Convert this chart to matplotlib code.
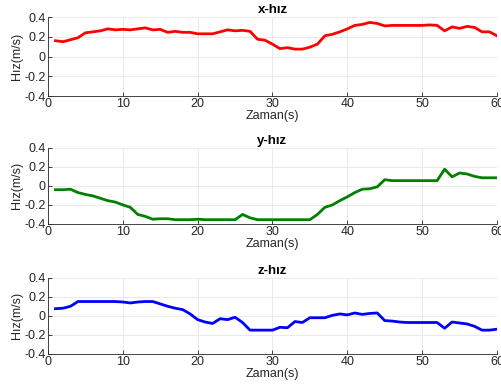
import numpy as np
import matplotlib
matplotlib.use('Agg')
import matplotlib.pyplot as plt
from matplotlib.ticker import FuncFormatter

plt.rcParams['font.family'] = ['Liberation Sans', 'DejaVu Sans']
plt.rcParams['font.size'] = 9

# zaman ekseni
zaman = list(range(1, 61))

# x-hız
x_hiz = [0.16, 0.15, 0.17, 0.19, 0.24, 0.25, 0.26, 0.28, 0.27, 0.275,
         0.27, 0.28, 0.29, 0.27, 0.275, 0.245, 0.255, 0.245, 0.245, 0.23,
         0.23, 0.23, 0.25, 0.27, 0.26, 0.265, 0.255, 0.175, 0.165, 0.125,
         0.08, 0.09, 0.075, 0.075, 0.095, 0.125, 0.21, 0.225, 0.25, 0.28,
         0.315, 0.325, 0.345, 0.335, 0.31, 0.315, 0.315, 0.315, 0.315, 0.315,
         0.32, 0.315, 0.26, 0.30, 0.285, 0.305, 0.295, 0.25, 0.25, 0.21]

# y-hız
y_hiz = [-0.04, -0.04, -0.035, -0.07, -0.09, -0.105, -0.13, -0.155, -0.17, -0.2,
         -0.225, -0.3, -0.32, -0.35, -0.345, -0.345, -0.355, -0.355, -0.355, -0.35,
         -0.355, -0.355, -0.355, -0.355, -0.355, -0.3, -0.335, -0.355, -0.355, -0.355,
         -0.355, -0.355, -0.355, -0.355, -0.355, -0.3, -0.225, -0.2, -0.155, -0.115,
         -0.07, -0.035, -0.03, -0.01, 0.065, 0.055, 0.055, 0.055, 0.055, 0.055,
         0.055, 0.055, 0.175, 0.095, 0.135, 0.125, 0.1, 0.085, 0.085, 0.085]

# z-hız
z_hiz = [0.075, 0.08, 0.1, 0.15, 0.15, 0.15, 0.15, 0.15, 0.15, 0.145,
         0.135, 0.145, 0.15, 0.15, 0.125, 0.1, 0.08, 0.065, 0.02, -0.04,
         -0.065, -0.08, -0.03, -0.04, -0.015, -0.07, -0.15, -0.15, -0.15, -0.15,
         -0.12, -0.125, -0.06, -0.07, -0.02, -0.02, -0.02, 0.005, 0.02, 0.01,
         0.03, 0.015, 0.025, 0.03, -0.05, -0.055, -0.065, -0.07, -0.07, -0.07,
         -0.07, -0.07, -0.13, -0.065, -0.075, -0.085, -0.11, -0.15, -0.15, -0.14]

basliklar = ['x-hız', 'y-hız', 'z-hız']
renkler = ['#ff0000', '#008000', '#0000ff']
seriler = [x_hiz, y_hiz, z_hiz]

fig = plt.figure(figsize=(5.02, 3.92), dpi=100)
konumlar = [(0.0956, 0.755, 0.8944, 0.2016),
            (0.0956, 0.4286, 0.8944, 0.1944),
            (0.0956, 0.097, 0.8944, 0.1946)]

def fmt(v, pos):
    if abs(v) < 1e-9:
        return '0'
    return '%.1f' % v

for k in range(3):
    ax = fig.add_axes(konumlar[k])
    ax.plot(zaman, seriler[k], color=renkler[k], linewidth=2.0)
    ax.set_xlim(0, 60)
    ax.set_ylim(-0.4, 0.4)
    ax.set_xticks([0, 10, 20, 30, 40, 50, 60])
    ax.set_yticks([-0.4, -0.2, 0, 0.2, 0.4])
    ax.yaxis.set_major_formatter(FuncFormatter(fmt))
    ax.grid(True, color='#e6e6e6', linewidth=0.6)
    ax.set_axisbelow(True)
    ax.spines['top'].set_visible(False)
    ax.spines['right'].set_visible(False)
    ax.spines['left'].set_color('#262626')
    ax.spines['bottom'].set_color('#262626')
    ax.spines['left'].set_linewidth(0.6)
    ax.spines['bottom'].set_linewidth(0.6)
    ax.tick_params(direction='in', length=3, width=0.6, colors='#262626',
                   labelsize=9, pad=1.5)
    ax.set_xlabel('Zaman(s)', fontsize=9, color='#262626', labelpad=0)
    ax.set_ylabel('Hız(m/s)', fontsize=9, color='#262626', labelpad=1)
    ax.set_title(basliklar[k], fontsize=9.5, fontweight='bold', pad=3)

fig.savefig('out.png', dpi=100)
